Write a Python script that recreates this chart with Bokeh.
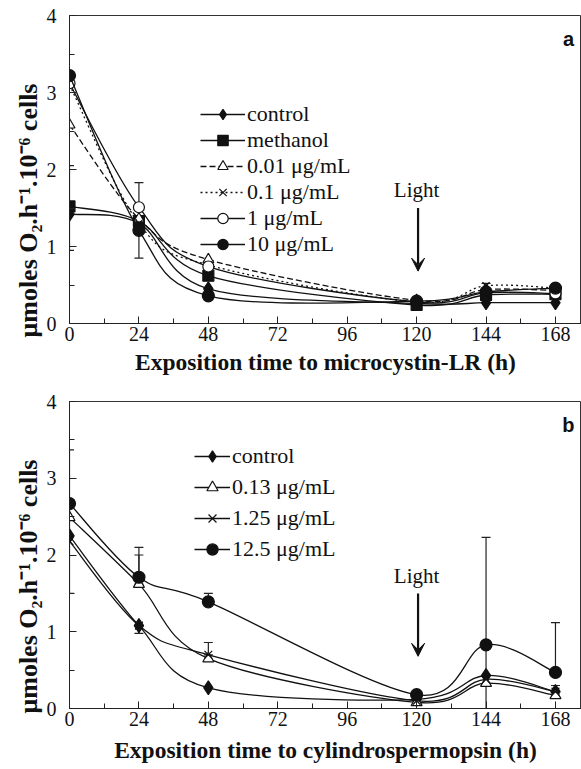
from bokeh.plotting import figure
from bokeh.models import (ColumnDataSource, Legend, LegendItem, Whisker, TeeHead,
                          Arrow, VeeHead, Label, FixedTicker, Range1d, Title)
from bokeh.layouts import column
from bokeh.embed import file_html
from bokeh.resources import INLINE

# ---------------- data ----------------
hours = [0, 24, 48, 120, 144, 168]
x_major = [0, 24, 48, 72, 96, 120, 144, 168]
x_minor = [12, 36, 60, 84, 108, 132, 156]
y_major = [0, 1, 2, 3, 4]
y_minor = [0.5, 1.5, 2.5, 3.5]

# panel a : microcystin-LR
mc_labels = ["control", "methanol", "0.01 μg/mL", "0.1 μg/mL", "1 μg/mL", "10 μg/mL"]
mc_control = [1.42, 1.30, 0.45, 0.26, 0.27, 0.27]
mc_methanol = [1.52, 1.33, 0.62, 0.24, 0.37, 0.38]
mc_001 = [2.58, 1.36, 0.83, 0.30, 0.44, 0.43]
mc_01 = [3.10, 1.30, 0.76, 0.28, 0.49, 0.46]
mc_1 = [3.12, 1.51, 0.74, 0.28, 0.40, 0.39]
mc_10 = [3.22, 1.21, 0.36, 0.29, 0.41, 0.46]
mc_err_x = [0, 24, 120, 144, 168]
mc_err_low = [0.95, 0.85, 0.20, 0.45, 0.40]
mc_err_high = [2.05, 1.83, 0.33, 0.52, 0.50]

# panel b : cylindrospermopsin
cy_labels = ["control", "0.13 μg/mL", "1.25 μg/mL", "12.5 μg/mL"]
cy_control = [2.25, 1.08, 0.27, 0.12, 0.43, 0.22]
cy_013 = [2.49, 1.62, 0.65, 0.08, 0.33, 0.17]
cy_125 = [2.18, 1.08, 0.70, 0.10, 0.38, 0.22]
cy_125b = [2.67, 1.71, 1.39, 0.18, 0.83, 0.47]
cy_err_x = [0, 24, 24, 24, 48, 48, 144, 168, 168]
cy_err_low = [1.50, 1.71, 1.62, 0.98, 1.39, 0.70, 0.00, 0.47, 0.22]
cy_err_high = [3.37, 2.10, 2.00, 1.08, 1.50, 0.86, 2.23, 1.12, 0.30]

Y_TITLE = "μmoles O₂.h⁻¹.10⁻⁶ cells"

F_NORMAL = "serif"
F_BOLD = "Liberation Serif"


def smooth_source(xs, ys):
    """Bezier segments through the data points (Excel-like smoothed line)."""
    n = len(xs)
    d = {k: [] for k in ("x0", "y0", "x1", "y1", "cx0", "cy0", "cx1", "cy1")}
    for i in range(n - 1):
        xp, yp = (xs[i - 1], ys[i - 1]) if i > 0 else (xs[i], ys[i])
        xn, yn = (xs[i + 2], ys[i + 2]) if i + 2 < n else (xs[i + 1], ys[i + 1])
        d["x0"].append(xs[i]); d["y0"].append(ys[i])
        d["x1"].append(xs[i + 1]); d["y1"].append(ys[i + 1])
        d["cx0"].append(xs[i] + (xs[i + 1] - xp) / 6.0)
        d["cy0"].append(ys[i] + (ys[i + 1] - yp) / 6.0)
        d["cx1"].append(xs[i + 1] - (xn - xs[i]) / 6.0)
        d["cy1"].append(ys[i + 1] - (yn - ys[i]) / 6.0)
    return ColumnDataSource(d)


def make_fig(height, border_top, border_bottom, xlabel, xlabel_standoff, ytitle_offset):
    p = figure(width=581, height=height, x_range=Range1d(0, 177), y_range=Range1d(0, 4),
               output_backend="svg", toolbar_location=None,
               min_border_left=69, min_border_right=0,
               min_border_top=border_top, min_border_bottom=border_bottom)
    p.grid.visible = False
    p.outline_line_color = "#333333"
    p.xaxis.ticker = FixedTicker(ticks=x_major, minor_ticks=x_minor)
    p.yaxis.ticker = FixedTicker(ticks=y_major, minor_ticks=y_minor)
    for ax in (p.xaxis[0], p.yaxis[0]):
        ax.major_tick_in = 7
        ax.major_tick_out = 0
        ax.minor_tick_in = 5
        ax.minor_tick_out = 0
        ax.axis_line_color = "#222222"
        ax.major_tick_line_color = "#222222"
        ax.minor_tick_line_color = "#222222"
        ax.major_label_text_font = F_NORMAL
        ax.major_label_text_font_size = "20px"
        ax.major_label_text_color = "#111111"
        ax.axis_label_text_font = F_BOLD
        ax.axis_label_text_font_style = "bold"
        ax.axis_label_text_color = "#111111"
    p.xaxis.major_label_standoff = 3
    p.xaxis.axis_label_standoff = xlabel_standoff
    p.xaxis.axis_label = xlabel
    p.xaxis.axis_label_text_font_size = "23.5px"
    p.yaxis.major_label_standoff = 13
    # y title as a side title so it can sit lower along the axis, as in the original
    p.add_layout(Title(text=Y_TITLE, align="left", offset=ytitle_offset, standoff=2,
                       text_font=F_BOLD, text_font_style="bold",
                       text_font_size="26px", text_color="#111111"), "left")
    return p


def add_series(p, ys, marker, size, fill, dash):
    src = smooth_source(hours, ys)
    r_line = p.bezier(x0="x0", y0="y0", x1="x1", y1="y1", cx0="cx0", cy0="cy0",
                      cx1="cx1", cy1="cy1", source=src, line_color="#111111",
                      line_width=1.3, line_dash=dash)
    r_mark = p.scatter(hours, ys, marker=marker, size=size, fill_color=fill,
                       line_color="#111111", line_width=1.2)
    return r_line, r_mark


def add_errors(p, xs, lo, hi):
    src = ColumnDataSource(dict(base=xs, lower=lo, upper=hi))
    w = Whisker(base="base", lower="lower", upper="upper", source=src,
                dimension="height", line_color="#222222", line_width=1.2,
                upper_head=TeeHead(size=9, line_color="#222222", line_width=1.2),
                lower_head=TeeHead(size=9, line_color="#222222", line_width=1.2))
    p.add_layout(w)


def add_light(p):
    p.add_layout(Label(x=120, y=1.73, text="Light", text_align="center",
                       text_baseline="middle", text_font=F_NORMAL,
                       text_font_size="21px", text_color="#111111"))
    p.add_layout(Arrow(x_start=120.5, y_start=1.5, x_end=120.5, y_end=0.68,
                       line_width=2.2, line_color="#111111",
                       end=VeeHead(size=13, fill_color="#111111", line_color="#111111")))


# ---------------- panel a ----------------
pa = make_fig(381, 15, 58, "Exposition time to microcystin-LR (h)", 5, -14)
styles_a = [
    (mc_control, "diamond", 14, "#111111", "solid"),
    (mc_methanol, "square", 11, "#111111", "solid"),
    (mc_001, "triangle", 11, "white", "6 3"),
    (mc_01, "x", 10, "white", "2 3"),
    (mc_1, "circle", 11, "white", "solid"),
    (mc_10, "circle", 12, "#111111", "solid"),
]
items_a = []
for lab, (ys, m, s, f, d) in zip(mc_labels, styles_a):
    rl, rm = add_series(pa, ys, m, s, f, d)
    items_a.append(LegendItem(label=lab, renderers=[rl, rm]))
add_errors(pa, mc_err_x, mc_err_low, mc_err_high)
add_light(pa)
pa.add_layout(Label(x=172.5, y=3.7, text="a", text_align="center", text_baseline="middle",
                    text_font="Liberation Sans", text_font_style="bold",
                    text_font_size="20px", text_color="#111111"))
leg_a = Legend(items=items_a, location=(131, 66), glyph_width=45, glyph_height=26,
               label_standoff=2, spacing=0, padding=0, margin=0,
               border_line_color=None, background_fill_alpha=0,
               label_text_font=F_NORMAL, label_text_font_size="22px",
               label_text_color="#111111")
pa.add_layout(leg_a)

# ---------------- panel b ----------------
pb = make_fig(388, 20, 61, "Exposition time to cylindrospermopsin (h)", 8, -5)
styles_b = [
    (cy_control, "diamond", 14, "#111111", "solid"),
    (cy_013, "triangle", 11, "white", "solid"),
    (cy_125, "x", 11, "white", "solid"),
    (cy_125b, "circle", 12, "#111111", "solid"),
]
items_b = []
for lab, (ys, m, s, f, d) in zip(cy_labels, styles_b):
    rl, rm = add_series(pb, ys, m, s, f, d)
    items_b.append(LegendItem(label=lab, renderers=[rl, rm]))
add_errors(pb, cy_err_x, cy_err_low, cy_err_high)
add_light(pb)
pb.add_layout(Label(x=172.5, y=3.69, text="b", text_align="center", text_baseline="middle",
                    text_font="Liberation Sans", text_font_style="bold",
                    text_font_size="20px", text_color="#111111"))
leg_b = Legend(items=items_b, location=(125, 145), glyph_width=36, glyph_height=28,
               label_standoff=2, spacing=3, padding=0, margin=0,
               border_line_color=None, background_fill_alpha=0,
               label_text_font=F_NORMAL, label_text_font_size="22px",
               label_text_color="#111111")
pb.add_layout(leg_b)

layout = column(pa, pb, spacing=0)
open("out.html", "w").write(file_html(layout, INLINE))
